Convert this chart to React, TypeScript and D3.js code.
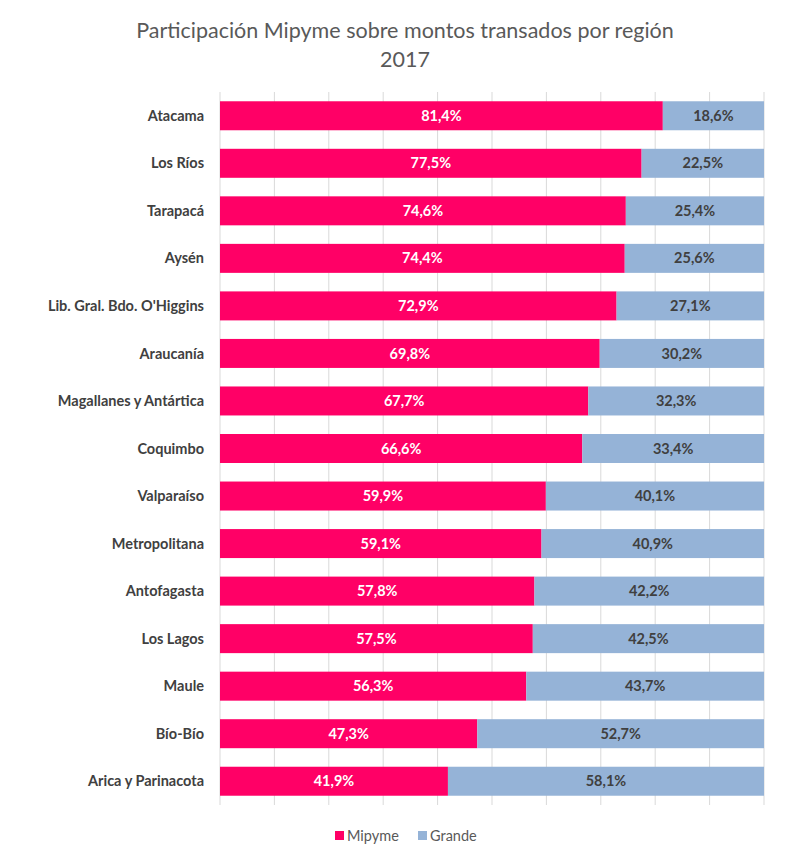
import React from "react";
import * as d3 from "d3";

const regions = [
  "Atacama",
  "Los Ríos",
  "Tarapacá",
  "Aysén",
  "Lib. Gral. Bdo. O'Higgins",
  "Araucanía",
  "Magallanes y Antártica",
  "Coquimbo",
  "Valparaíso",
  "Metropolitana",
  "Antofagasta",
  "Los Lagos",
  "Maule",
  "Bío-Bío",
  "Arica y Parinacota",
];
const mipyme = [81.4, 77.5, 74.6, 74.4, 72.9, 69.8, 67.7, 66.6, 59.9, 59.1, 57.8, 57.5, 56.3, 47.3, 41.9];
const grande = [18.6, 22.5, 25.4, 25.6, 27.1, 30.2, 32.3, 33.4, 40.1, 40.9, 42.2, 42.5, 43.7, 52.7, 58.1];
const gridTicks = [0, 10, 20, 30, 40, 50, 60, 70, 80, 90, 100];
const seriesNames = ["Mipyme", "Grande"];
const colors = ["#FF0066", "#95B3D7"];

const W = 800;
const H = 867;
const FONT = "Lato, 'Open Sans', sans-serif";

export default function App() {
  const x = d3.scaleLinear().domain([0, 100]).range([220, 764]);
  const y = d3.scaleBand<string>().domain(regions).range([92, 805]).paddingInner(0.39).paddingOuter(0.195);
  const fmt = (v: number) => v.toFixed(1).replace(".", ",") + "%";
  const bw = y.bandwidth();

  return (
    <svg width={W} height={H} style={{ position: "absolute", left: 0, top: 0, background: "#fff" }} fontFamily={FONT}>
      <text x={405} y={38} textAnchor="middle" fontSize={21.5} fill="#595959">
        Participación Mipyme sobre montos transados por región
      </text>
      <text x={405} y={67} textAnchor="middle" fontSize={21.5} fill="#595959">
        2017
      </text>
      {gridTicks.map((t) => (
        <line key={t} x1={x(t)} x2={x(t)} y1={92} y2={805} stroke="#d9d9d9" strokeWidth={1} />
      ))}
      {regions.map((r, i) => {
        const y0 = y(r)!;
        const cy = y0 + bw / 2;
        return (
          <g key={r}>
            <rect x={x(0)} y={y0} width={x(mipyme[i]) - x(0)} height={bw} fill={colors[0]} />
            <rect x={x(mipyme[i])} y={y0} width={x(100) - x(mipyme[i])} height={bw} fill={colors[1]} />
            <text x={204} y={cy} dy="0.35em" textAnchor="end" fontSize={14.5} fontWeight="bold" fill="#404040">
              {r}
            </text>
            <text x={(x(0) + x(mipyme[i])) / 2} y={cy} dy="0.35em" textAnchor="middle" fontSize={14.5} fontWeight="bold" fill="#ffffff">
              {fmt(mipyme[i])}
            </text>
            <text x={(x(mipyme[i]) + x(100)) / 2} y={cy} dy="0.35em" textAnchor="middle" fontSize={14.5} fontWeight="bold" fill="#404040">
              {fmt(grande[i])}
            </text>
          </g>
        );
      })}
      <g>
        <rect x={335} y={831} width={9} height={9} fill={colors[0]} />
        <text x={347} y={836} dy="0.35em" fontSize={14.5} fill="#595959">{seriesNames[0]}</text>
        <rect x={418} y={831} width={9} height={9} fill={colors[1]} />
        <text x={430} y={836} dy="0.35em" fontSize={14.5} fill="#595959">{seriesNames[1]}</text>
      </g>
    </svg>
  );
}
